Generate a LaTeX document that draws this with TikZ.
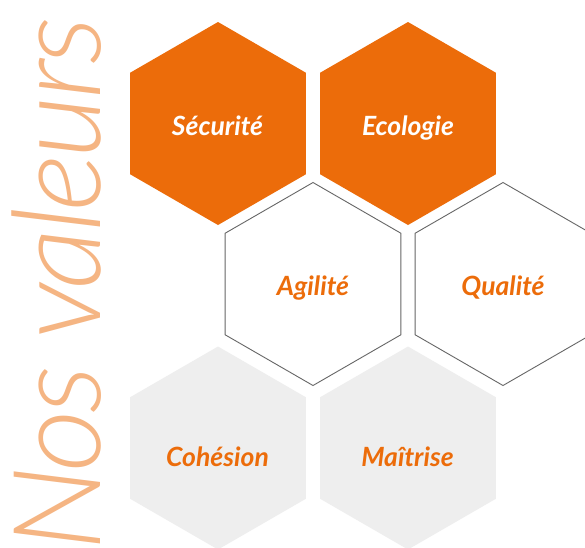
\documentclass[tikz,border=0pt]{standalone}
\usepackage{fontspec}
\setmainfont{Lato}[BoldItalicFont={Lato Bold Italic}]
\newfontfamily\nosfont{Lato Light Italic}[LetterSpace=-3.5]
\usetikzlibrary{shapes.geometric}
\definecolor{hexorange}{HTML}{EC6C0A}
\definecolor{peach}{HTML}{F5B583}
\definecolor{hexgray}{HTML}{EEEEEE}
\definecolor{hexline}{HTML}{666666}
\tikzset{
  hexbase/.style={regular polygon, regular polygon sides=6, shape border rotate=30,
    minimum size=203pt, inner sep=0pt, outer sep=0pt},
  hexfull/.style={hexbase, fill=hexorange},
  hexopen/.style={hexbase, draw=hexline, line width=0.9pt, fill=white},
  hexgrey/.style={hexbase, fill=hexgray},
  hexlabel/.style={anchor=base, inner sep=0pt,
    font=\fontsize{26.5}{30}\selectfont\bfseries\itshape},
  onorange/.style={hexlabel, text=white},
  onwhite/.style={hexlabel, text=hexorange},
  titletext/.style={rotate=90, anchor=base west, inner sep=0pt, text=peach,
    font=\fontsize{122}{126}\nosfont}
}
\begin{document}
\begin{tikzpicture}[x=1pt,y=-1pt]
\useasboundingbox (0,0) rectangle (585,547);
\fill[white] (0,0) rectangle (585,547);
\node[hexfull] (securite) at (218,123.5) {};
\node[hexfull] (ecologie) at (408,123.5) {};
\node[hexopen] (agilite) at (313,284) {};
\node[hexopen] (qualite) at (503,284) {};
\node[hexgrey] (cohesion) at (218,448) {};
\node[hexgrey] (maitrise) at (408,448) {};
\node[onorange] (lsecurite) at (217.5,135) {Sécurité};
\node[onorange] (lecologie) at (408,135) {Ecologie};
\node[onwhite] (lagilite) at (313,295) {Agilité};
\node[onwhite] (lqualite) at (503,295) {Qualité};
\node[onwhite] (lcohesion) at (217.5,466) {Cohésion};
\node[onwhite] (lmaitrise) at (407.5,466) {Maîtrise};
\node[titletext] (title) at (100,552) {Nos valeurs};
\end{tikzpicture}
\end{document}
